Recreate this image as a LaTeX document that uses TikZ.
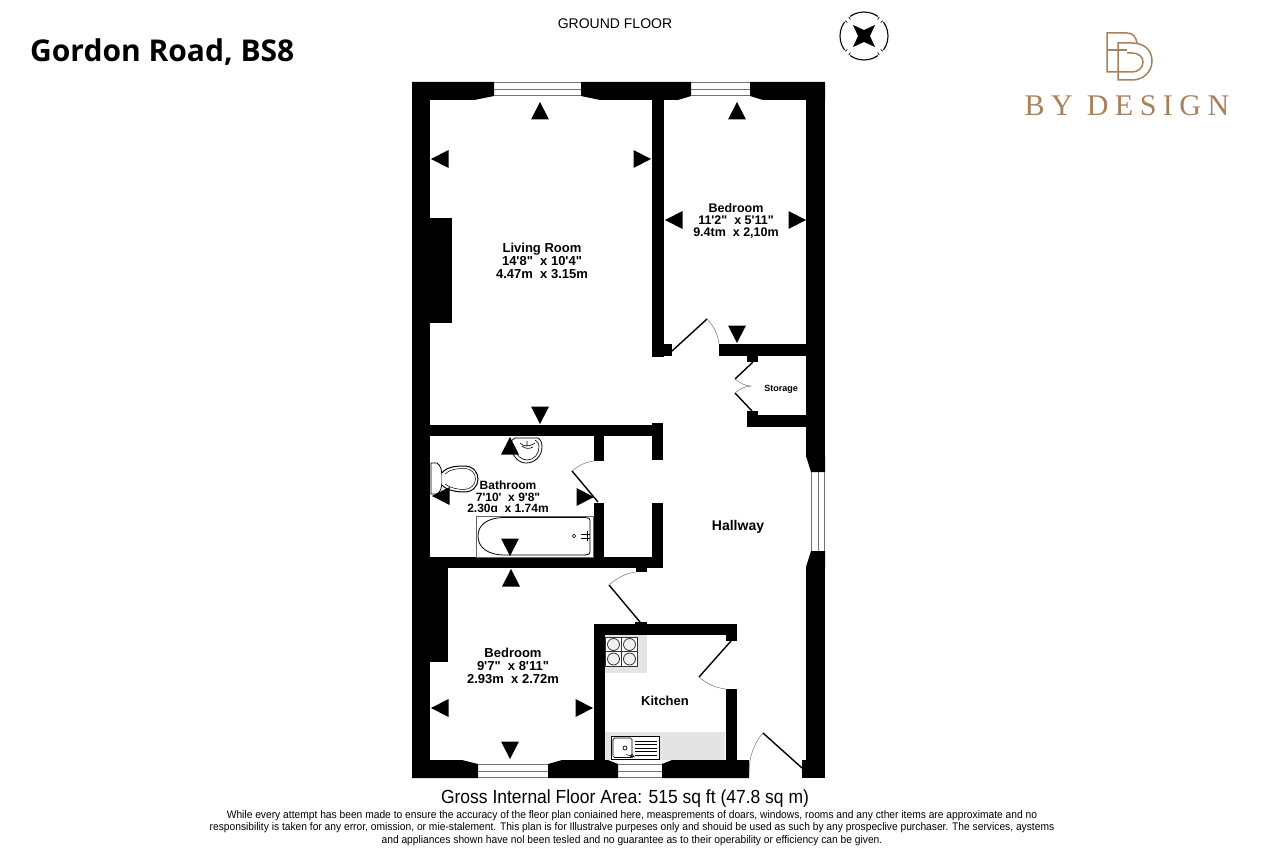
\documentclass[tikz,border=0pt]{standalone}
\usepackage{fontspec}
\setmainfont{Liberation Sans}
\newfontfamily\plainsans{Liberation Sans}
\newfontfamily\titlefont{Open Sans}
\newfontfamily\logofont[LetterSpace=21.6]{Liberation Serif}
\definecolor{bronze}{HTML}{A9805C}
\definecolor{counter}{HTML}{E4E4E4}
\tikzset{
 wall/.style={fill=black,draw=none},
 glass/.style={draw=black!55,line width=.9pt},
 leaf/.style={draw=black,line width=1.4pt},
 swing/.style={draw=black!55,line width=.5pt},
 fitting/.style={draw=black,line width=.8pt,fill=white},
 roomlabel/.style={font=\plainsans\bfseries\fontsize{13}{13}\selectfont,align=center,text=black,inner sep=0},
}
\newcommand{\Wl}[4]{\fill[wall] (#1,#2) rectangle (#3,#4);}
\newcommand{\TU}[2]{\fill (#1,#2) -- ++(9,17.5) -- ++(-18,0) -- cycle;}
\newcommand{\TD}[2]{\fill (#1,#2) -- ++(9,-17.5) -- ++(-18,0) -- cycle;}
\newcommand{\TL}[2]{\fill (#1,#2) -- ++(17.5,9) -- ++(0,-18) -- cycle;}
\newcommand{\TR}[2]{\fill (#1,#2) -- ++(-17.5,9) -- ++(0,-18) -- cycle;}
\begin{document}
\begin{tikzpicture}[x=1pt,y=-1pt]
\useasboundingbox (0,0) rectangle (1264,848);
\fill[white] (0,0) rectangle (1264,848);
% counters
\fill[counter] (605,635) rectangle (647,673);
\fill[counter] (605,732) rectangle (725,760);
% outer walls
\Wl{412}{82}{430}{778}
\fill[wall] (412,82) -- (494,82) -- (494,96) -- (474,100) -- (412,100) -- cycle;
\fill[wall] (581,82) -- (691,82) -- (691,96) -- (678,100) -- (600,100) -- (581,96) -- cycle;
\fill[wall] (750,82) -- (825,82) -- (825,100) -- (763,100) -- (750,96) -- cycle;
\Wl{806}{82}{825}{456}
\fill[wall] (806,456) -- (825,456) -- (825,472) -- (811,472) -- cycle;
\fill[wall] (811,551) -- (825,551) -- (825,567) -- (806,567) -- cycle;
\Wl{806}{567}{825}{778}
\Wl{802}{760}{825}{778}
% bottom walls
\fill[wall] (412,760) -- (462,760) -- (478,764) -- (478,778) -- (412,778) -- cycle;
\fill[wall] (548,764) -- (562,760) -- (608,760) -- (618,764) -- (618,778) -- (548,778) -- cycle;
\fill[wall] (662,778) -- (662,764) -- (672,760) -- (749,760) -- (749,778) -- cycle;
% windows
\draw[glass] (494,82.5) -- (581,82.5) (494,89) -- (581,89) (494,95.5) -- (581,95.5);
\draw[glass] (691,82.5) -- (750,82.5) (691,89) -- (750,89) (691,95.5) -- (750,95.5);
\draw[glass] (478,764.5) -- (548,764.5) (478,771) -- (548,771) (478,777.5) -- (548,777.5);
\draw[glass] (618,764.5) -- (662,764.5) (618,771) -- (662,771) (618,777.5) -- (662,777.5);
\draw[glass] (811.5,472) -- (811.5,551) (818,472) -- (818,551) (824.5,472) -- (824.5,551);
% interior walls
\Wl{652}{100}{664}{357}
\Wl{652}{344}{672}{356}
\Wl{719}{344}{807}{356}
\Wl{747}{356}{758}{362}
\Wl{747}{415}{807}{427}
\Wl{747}{411}{758}{415}
\Wl{430}{425}{652}{436}
\Wl{652}{423}{663}{460}
\Wl{594}{436}{604}{461}
\Wl{594}{503}{604}{557}
\Wl{652}{503}{663}{568}
\Wl{430}{557}{663}{568}
\Wl{636}{568}{647}{572}
\Wl{430}{218}{452}{323}
\Wl{430}{568}{448}{662}
% kitchen
\Wl{594}{624}{737}{635}
\Wl{726}{635}{737}{641}
\Wl{594}{624}{605}{760}
\Wl{726}{689}{737}{760}
\Wl{635}{622}{647}{624}
% doors
\draw[leaf] (802,768) -- (763,733); \draw[swing] (763,733) .. controls (754,743) and (749,757) .. (749,773);
\draw[leaf] (731,641) -- (699,677); \draw[swing] (699,677) .. controls (707,684) and (716,688) .. (726,689);
\draw[leaf] (640,622) -- (609,585); \draw[swing] (609,585) .. controls (617,578) and (626,573) .. (636,572);
\draw[leaf] (672,351) -- (707,319); \draw[swing] (707,319) .. controls (714,326) and (718,335) .. (719,344);
\draw[leaf] (753,362) -- (735,379); \draw[swing] (735,379) .. controls (740,383) and (745,386) .. (751,386);
\draw[leaf] (752,411) -- (735,393); \draw[swing] (735,393) .. controls (740,389) and (745,386) .. (751,386);
\draw[leaf] (598,502) -- (572,471); \draw[swing] (572,471) .. controls (579,465) and (586,462) .. (594,461);
% bath
\draw[black!60,line width=.6pt] (476,516) rectangle (593,557);
\draw[fitting] (505,517.5) -- (583,517.5) .. controls (590,517.5) and (590,519) .. (590,522) -- (590,551) .. controls (590,554) and (589,555) .. (583,555) -- (505,555) .. controls (487,555) and (478,547) .. (478,536) .. controls (478,525) and (487,517.5) .. (505,517.5) -- cycle;
\draw[black,line width=.5pt] (574,536) circle (1.8);
\draw[black,line width=.6pt] (581,534) -- (590,534) (581,538) -- (590,538) (587,531) -- (587,541);
% basin
\draw[fitting] (511,441) .. controls (510,455) and (518,463) .. (526,463) .. controls (535,463) and (542,456) .. (542,447) .. controls (542,442) and (540,439) .. (538,438) -- (515,438) -- cycle;
\draw[black,line width=.6pt] (514,447) .. controls (516,456) and (522,460) .. (527,460) .. controls (534,460) and (539,454) .. (539,447) .. controls (539,443) and (537,441) .. (535,440);
\draw[black,line width=.6pt] (520,443) .. controls (524,447) and (529,447) .. (535,443) (527,441) -- (527,446) (522,446) .. controls (525,449) and (530,449) .. (533,447);
% toilet
\draw[fitting] (431,463) -- (437,463) .. controls (441,466) and (442,470) .. (442,479) .. controls (442,488) and (441,491) .. (437,494) -- (431,494) -- cycle;
\draw[fitting,line width=1pt] (442,473) .. controls (446,467) and (456,466) .. (464,466) .. controls (474,466) and (478,473) .. (478,479) .. controls (478,486) and (473,492) .. (464,492) .. controls (456,492) and (446,490) .. (442,485);
\draw[black,line width=.5pt] (445,474) .. controls (450,469) and (458,468.5) .. (464,468.5) .. controls (472,468.5) and (475.5,474) .. (475.5,479) .. controls (475.5,484) and (471,489.5) .. (464,489.5) .. controls (458,489.5) and (450,488) .. (445,484);
% hob
\draw[black!80,line width=1pt,fill=white] (605.5,637) rectangle (637,666);
\draw[black!80,line width=1pt] (621.5,637) -- (621.5,666) (605.5,651.5) -- (637,651.5);
\foreach \cx/\cy in {613.5/644.5,629.5/644.5,613.5/659,629.5/659}{\draw[black!80,line width=.8pt,fill=black!6] (\cx,\cy) circle (6);}
% sink
\draw[fitting] (611,736) rectangle (659,759.5);
\draw[black,line width=.7pt,rounded corners=1.5pt] (613,738) rectangle (632,757.5);
\foreach \ly in {741,744.5,748,751.5,755}{\draw[black,line width=.5pt] (635,\ly) -- (657,\ly);}
\draw[black,line width=.7pt] (625,748) circle (2);
\draw[black,line width=.5pt] (632,756) circle (1.7) (626,754.5) -- (635,757);
% direction marks
\TU{540}{102}\TU{737}{102}
\TL{431}{159}\TR{651}{159}
\TD{540}{424}
\TL{665}{220}\TR{806}{220}\TD{737}{343}
\TU{510}{437}\TL{432}{496}\TR{594}{497}\TD{510}{556}
\TU{511}{569}\TL{431}{708}\TR{593}{708}\TD{510}{759}
% labels
\node[roomlabel] (living) at (542,261) {Living Room\\14'8"\ \ x 10'4"\\4.47m\ \ x 3.15m};
\node[roomlabel,font=\plainsans\bfseries\fontsize{12.5}{12}\selectfont] (bed2) at (736,221) {Bedroom\\11'2"\ \ x 5'11"\\9.4tm\ \ x 2,10m};
\node[roomlabel,font=\plainsans\bfseries\fontsize{12}{11.5}\selectfont] (bath) at (508,497) {Bathroom\\7'10'\ \ x 9'8"\\2.30ɑ\ \ x 1.74m};
\node[roomlabel] (bed1) at (513,666) {Bedroom\\9'7"\ \ x 8'11"\\2.93m\ \ x 2.72m};
\node[roomlabel,font=\plainsans\bfseries\fontsize{13}{14}\selectfont] (kitchen) at (665,701) {Kitchen};
\node[roomlabel,font=\plainsans\bfseries\fontsize{9}{10}\selectfont] (storage) at (781,389) {Storage};
\node[roomlabel,font=\plainsans\bfseries\fontsize{14}{15}\selectfont] (hall) at (738,527) {Hallway};
\node[inner sep=0,font=\plainsans\fontsize{14}{15}\selectfont] (ground) at (615,24) {GROUND FLOOR};
\node[inner sep=0,anchor=west,font=\titlefont\bfseries\fontsize{30}{32}\selectfont] (title) at (30,52) {Gordon Road, BS8};
\node[inner sep=0,font=\plainsans\fontsize{19}{20}\selectfont] (area) at (625,799) {\scalebox{.92}[1]{Gross Internal Floor Area: 515 sq ft (47.8 sq m)}};
\node[inner sep=0,align=center,font=\plainsans\fontsize{11}{12.5}\selectfont] (note) at (632,828) {\scalebox{.932}[1]{While every attempt has been made to ensure the accuracy of the fleor plan coniained here, measprements of doars, windows, rooms and any cther items are approximate and no}\\
\scalebox{.932}[1]{responsibility is taken for any error, omission, or mie-stalement. This plan is for Illustralve purpeses only and shouid be used as such by any prospeclive purchaser. The services, aystems}\\
\scalebox{.932}[1]{and appliances shown have nol been tesled and no guarantee as to their operability or efficiency can be given.}};
% compass
\draw[black,line width=1.1pt] (864,36) circle (24);
\foreach \a in {45,135,225,315}{\fill[white] (864,36) ++(\a:24) circle (4);}
\foreach \a in {45,135,225,315}{\draw[black,line width=.7pt] (864,36) ++(\a-6:21.5) -- ++(\a-6:3) (864,36) ++(\a+6:21.5) -- ++(\a+6:3);}
\fill (875,25) -- (870,36) -- (875,47) -- (864,42) -- (853,47) -- (858,36) -- (853,25) -- (864,30) -- cycle;
% logo
\draw[bronze,line width=1.5pt] (1118,72) -- (1107,72) -- (1107,33) -- (1127,33) .. controls (1133,33) and (1136,37) .. (1137,43);
\draw[bronze,line width=1.5pt] (1107,50) -- (1127,50);
\draw[bronze,line width=1.5pt] (1118,80) -- (1118,43) -- (1132,43) .. controls (1145,43) and (1152,51) .. (1152,61) .. controls (1152,72) and (1143,80) .. (1132,80) -- cycle;
\draw[bronze,line width=1.5pt] (1127,53) -- (1132,53) .. controls (1139,53) and (1143,57) .. (1143,62) .. controls (1143,68) and (1138,72) .. (1132,72) -- (1118,72);
\node[inner sep=0,anchor=west,text=bronze,font=\logofont\fontsize{30}{32}\selectfont] (brand) at (1024.5,106) {BY DESIGN};
\end{tikzpicture}
\end{document}
